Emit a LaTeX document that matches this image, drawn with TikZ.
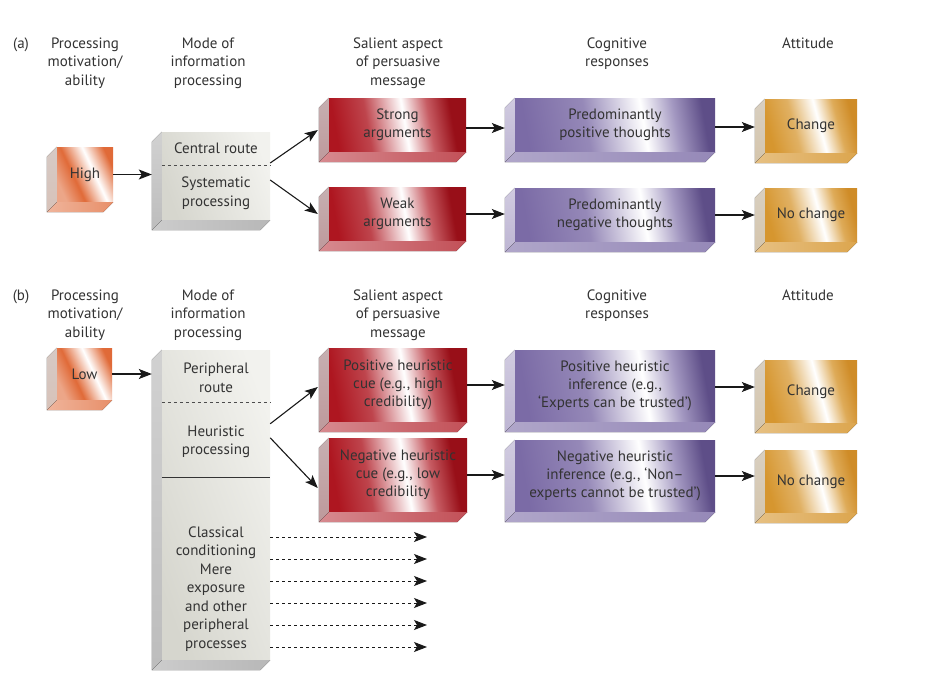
\documentclass[tikz,border=0pt]{standalone}
\usepackage{fontspec}
\setmainfont{PT Sans}
\usetikzlibrary{calc,arrows.meta}
\definecolor{txt}{HTML}{333333}
\definecolor{cR}{HTML}{AE1620}
\definecolor{cRd}{HTML}{980F18}
\definecolor{cP}{HTML}{7B6BA6}
\definecolor{cPd}{HTML}{5E4E88}
\definecolor{cG}{HTML}{D6962F}
\definecolor{cGd}{HTML}{CF8C28}
\definecolor{cO}{HTML}{E06A38}
\definecolor{cGa}{HTML}{D6D6CE}
\definecolor{cGb}{HTML}{F2F2EE}
\pgfdeclarehorizontalshading{redsh}{100bp}{color(0bp)=(cR); color(25bp)=(cR); color(38bp)=(cR!80!white); color(53bp)=(white); color(63bp)=(cR!70!white); color(72bp)=(cRd); color(100bp)=(cRd)}
\pgfdeclarehorizontalshading{pursh}{100bp}{color(0bp)=(cP); color(25bp)=(cP); color(42bp)=(cP!80!white); color(58bp)=(white); color(67bp)=(cP!70!white); color(75bp)=(cPd); color(100bp)=(cPd)}
\pgfdeclarehorizontalshading{goldsh}{100bp}{color(0bp)=(cG); color(25bp)=(cG); color(40bp)=(cG!75!white); color(55bp)=(white); color(66bp)=(cG!80!white); color(75bp)=(cGd); color(100bp)=(cGd)}
\pgfdeclarehorizontalshading{orsh}{100bp}{color(0bp)=(cO!60!white); color(25bp)=(cO!60!white); color(40bp)=(cO); color(58bp)=(white); color(70bp)=(cO!70!white); color(75bp)=(cO); color(100bp)=(cO)}
\pgfdeclarehorizontalshading{graysh}{100bp}{color(0bp)=(cGa); color(25bp)=(cGa); color(75bp)=(cGb); color(100bp)=(cGb)}
\tikzset{
  every node/.style={font=\fontsize{15}{18.5}\selectfont, text=txt},
  hdr/.style={align=center, anchor=north, inner sep=0pt},
  boxbase/.style={inner sep=0pt, align=center, font=\fontsize{15}{18}\selectfont},
  redF/.style={shading=redsh, shading angle=10},
  redL/.style={top color=cR!30!gray!50!white, bottom color=cR!40!gray!60!white},
  redB/.style={left color=cR!50!white, right color=cR!75!white},
  purF/.style={shading=pursh, shading angle=10},
  purL/.style={top color=cP!35!white, bottom color=cP!50!white},
  purB/.style={left color=cP!60!white, right color=cP!80!white},
  goldF/.style={shading=goldsh, shading angle=15},
  goldL/.style={top color=cG!35!gray!40!white, bottom color=cG!50!gray!50!white},
  goldB/.style={left color=cG!60!white, right color=cG!85!white},
  orF/.style={shading=orsh, shading angle=25},
  orL/.style={top color=cO!25!gray!40!white, bottom color=cO!40!gray!45!white},
  orB/.style={left color=cO!50!white, right color=cO!75!white},
  grayF/.style={shading=graysh, shading angle=20},
  grayL/.style={top color=black!18, bottom color=black!26},
  grayB/.style={left color=black!20, right color=black!28},
  tipst/.style={-{Stealth[length=13pt,width=10pt,inset=3pt]}},
  arr/.style={draw=black!90, line width=1.1pt, tipst},
  darr/.style={draw=black!90, line width=1pt, dash pattern=on 3pt off 3pt, tipst},
  sepdash/.style={draw=black!70, line width=0.9pt, dash pattern=on 3pt off 3pt},
  sepline/.style={draw=black!80, line width=1pt},
}
\newcommand\cubebox[7]{%
  \node[boxbase, #6F, minimum width={#4pt-#2pt}, minimum height={#5pt-#3pt}] (#1) at ({(#2+#4)/2},{(#3+#5)/2}) {#7};
  \fill[#6L] (#1.north west) -- (#1.south west) -- ++(-10,10) -- ($(#1.north west)+(-10,10)$) -- cycle;
  \fill[#6B] (#1.south west) -- (#1.south east) -- ++(-10,10) -- ($(#1.south west)+(-10,10)$) -- cycle;
}
\begin{document}
\begin{tikzpicture}[x=1pt, y=-1pt]
\useasboundingbox (0,0) rectangle (929,672);
\fill[white] (0,0) rectangle (929,672);

% ---------- (a) headers
\node[hdr] (la) at (21,35) {\strut(a)};
\node[hdr] (ha1) at (85,35) {\strut Processing\\motivation/\\ability};
\node[hdr] (ha2) at (208,35) {\strut Mode of\\information\\processing};
\node[hdr] (ha3) at (398,35) {\strut Salient aspect\\of persuasive\\message};
\node[hdr] (ha4) at (617,35) {\strut Cognitive\\responses};
\node[hdr] (ha5) at (808,35) {\strut Attitude};

% ---------- (a) boxes
\cubebox{high}{57}{147}{113}{202}{or}{High}
\cubebox{modea}{162}{132}{270}{220}{gray}{}
\node[align=center] (central) at (216,148) {Central route};
\node[align=center] (system) at (216,193) {Systematic\\processing};
\draw[sepdash] ($(modea.north west)+(0,34)$) -- ($(modea.north east)+(0,34)$);
\cubebox{strong}{329}{98}{466}{152}{red}{Strong\\arguments}
\cubebox{weak}{329}{187}{466}{241}{red}{Weak\\arguments}
\cubebox{posth}{515}{98}{715}{152}{pur}{Predominantly\\positive thoughts}
\cubebox{negth}{515}{188}{715}{242}{pur}{Predominantly\\negative thoughts}
\cubebox{changea}{765}{99}{857}{153}{gold}{Change}
\cubebox{nochangea}{765}{188}{857}{242}{gold}{No change}

% ---------- (a) arrows
\draw[arr] (high.east) -- ($(high.east -| modea.west)+(-10,0)$);
\draw[arr] ($(modea.east)+(0,-13)$) -- ($(strong.west)+(-11,5)$);
\draw[arr] ($(modea.east)+(0,4)$) -- ($(weak.west)+(-11,0)$);
\draw[arr] ($(strong.east)+(0,3)$) -- ($(strong.east -| posth.west)+(-10,3)$);
\draw[arr] (weak.east) -- ($(weak.east -| negth.west)+(-10,0)$);
\draw[arr] ($(posth.east)+(0,2)$) -- ($(posth.east -| changea.west)+(-10,2)$);
\draw[arr] (negth.east) -- ($(negth.east -| nochangea.west)+(-10,0)$);

% ---------- (b) headers
\node[hdr] (lb) at (21,287) {\strut(b)};
\node[hdr] (hb1) at (85,287) {\strut Processing\\motivation/\\ability};
\node[hdr] (hb2) at (208,287) {\strut Mode of\\information\\processing};
\node[hdr] (hb3) at (398,287) {\strut Salient aspect\\of persuasive\\message};
\node[hdr] (hb4) at (617,287) {\strut Cognitive\\responses};
\node[hdr] (hb5) at (808,287) {\strut Attitude};

% ---------- (b) boxes
\cubebox{low}{57}{348}{112}{400}{or}{Low}
\cubebox{modeb}{162}{350}{270}{660}{gray}{}
\node[align=center] (periph) at (216,378) {Peripheral\\route};
\node[align=center] (heur) at (216,442) {Heuristic\\processing};
\node[align=center] (classic) at (216,589) {Classical\\conditioning\\Mere\\exposure\\and other\\peripheral\\processes};
\draw[sepdash] ($(modeb.north west)+(0,53)$) -- ($(modeb.north east)+(0,53)$);
\draw[sepline] ($(modeb.north west)+(0,128)$) -- ($(modeb.north east)+(0,128)$);
\cubebox{poscue}{329}{348}{467}{422}{red}{Positive heuristic\\cue (e.g., high\\credibility)}
\cubebox{negcue}{329}{438}{467}{512}{red}{Negative heuristic\\cue (e.g., low\\credibility}
\cubebox{posinf}{515}{350}{715}{422}{pur}{Positive heuristic\\inference (e.g.,\\‘Experts can be trusted’)}
\cubebox{neginf}{515}{440}{715}{512}{pur}{Negative heuristic\\inference (e.g., ‘Non–\\experts cannot be trusted’)}
\cubebox{changeb}{765}{360}{857}{423}{gold}{Change}
\cubebox{nochangeb}{765}{450}{857}{513}{gold}{No change}

% ---------- (b) arrows
\draw[arr] (low.east) -- ($(low.east -| modeb.west)+(-10,0)$);
\draw[arr] ($(modeb.north east)+(0,74)$) -- ($(poscue.west)+(-11,2)$);
\draw[arr] ($(modeb.north east)+(0,88)$) -- ($(negcue.west)+(-11,13)$);
\draw[arr] (poscue.east) -- ($(poscue.east -| posinf.west)+(-10,0)$);
\draw[arr] (negcue.east) -- ($(negcue.east -| neginf.west)+(-10,0)$);
\draw[arr] ($(posinf.east)+(0,1)$) -- ($(posinf.east -| changeb.west)+(-10,1)$);
\draw[arr] (neginf.east) -- ($(neginf.east -| nochangeb.west)+(-10,0)$);

% ---------- dashed arrows
\foreach \k in {0,...,5} {
  \coordinate (d\k) at (427,{537+22*\k});
  \draw[darr] (modeb.east |- d\k) -- (d\k);
}
\end{tikzpicture}
\end{document}
